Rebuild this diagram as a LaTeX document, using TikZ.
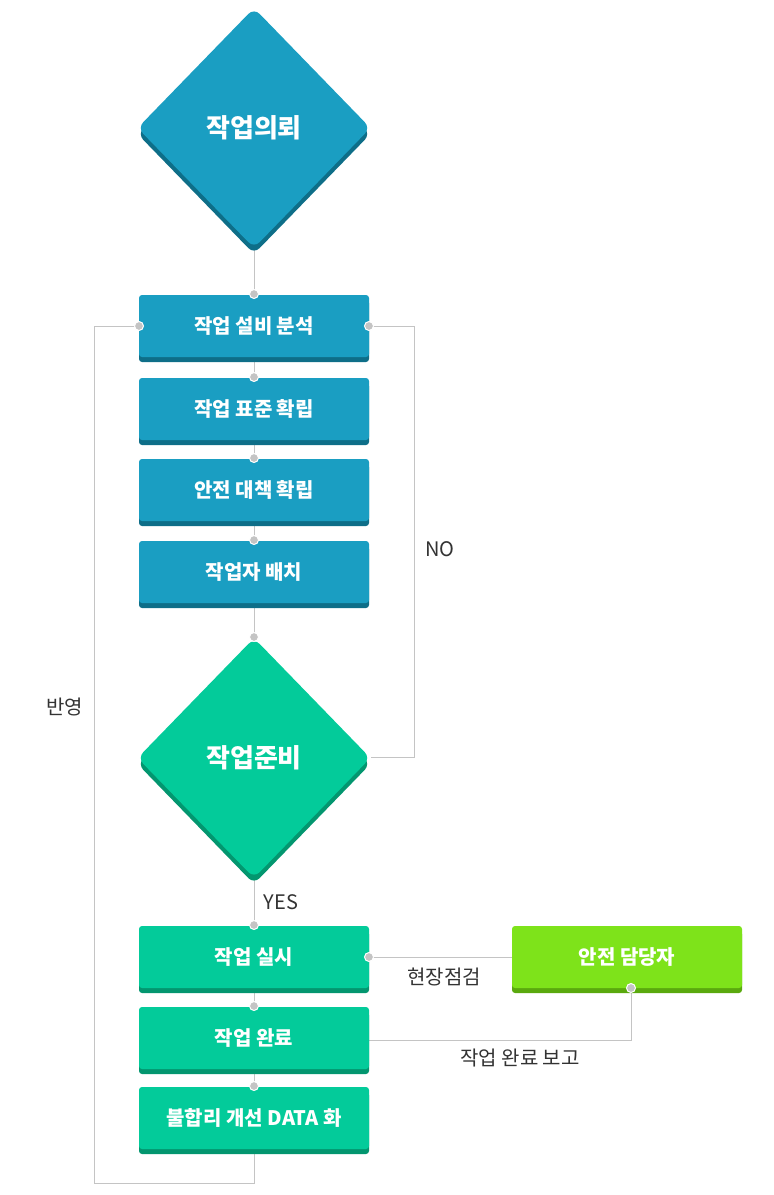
\documentclass[tikz,border=0pt]{standalone}
\usepackage{fontspec}
\setmainfont{Noto Sans CJK KR}
\usetikzlibrary{shapes.geometric}
\definecolor{cblue}{HTML}{1A9EC2}
\definecolor{cbluesh}{HTML}{0E6E88}
\definecolor{cgreen}{HTML}{03CB9A}
\definecolor{cgreensh}{HTML}{03966F}
\definecolor{clime}{HTML}{7EE31A}
\definecolor{climesh}{HTML}{5AA90E}
\definecolor{cline}{HTML}{C4C4C4}
\definecolor{ctext}{HTML}{333333}
\tikzset{
 x=1pt,y=-1pt,
 box/.style={rectangle,rounded corners=3pt,minimum width=230pt,minimum height=62pt,inner sep=0,text=white,font=\bfseries\fontsize{20}{24}\selectfont},
 dia/.style={diamond,rounded corners=8pt,aspect=0.97,minimum width=233pt,minimum height=240pt,inner sep=0,text=white,font=\bfseries\fontsize{26}{30}\selectfont},
 sh/.style={draw=none,text opacity=0},
 conn/.style={draw=cline,line width=1pt},
 dot/.style={circle,fill=cline,draw=white,line width=1pt,minimum size=9pt,inner sep=0},
 lab/.style={text=ctext,font=\fontsize{20}{24}\selectfont}
}
\begin{document}
\begin{tikzpicture}
\useasboundingbox (0,0) rectangle (774,1195);
% connectors first
\coordinate (d1b) at (254,248);
\coordinate (d2r) at (371,757);
\coordinate (nr) at (414,757);
\coordinate (nt) at (414,326);
\coordinate (lb) at (254,1183);
\coordinate (lbl) at (94,1183);
\coordinate (lt) at (94,326);
\draw[conn] (254,128) -- (254,294);
\draw[conn] (254,300) -- (254,1183) -- (lbl) -- (lt) -- (139,326);
\draw[conn] (d2r) -- (nr) -- (nt) -- (369,326);
\draw[conn] (512,957) -- (369,957);
\draw[conn] (631,988) -- (631,1040) -- (369,1040);
% shadows
\foreach \y in {326,409,490,572}{\node[box,fill=cbluesh,sh] at (254,\y+5) {};}
\foreach \y in {957,1038,1118}{\node[box,fill=cgreensh,sh] at (254,\y+5) {};}
\node[box,fill=climesh,sh] at (627,962) {};
\node[dia,fill=cbluesh,sh] at (254,134) {};
\node[dia,fill=cgreensh,sh] at (254,764) {};
% shapes
\node[dia,fill=cblue] (d1) at (254,128) {작업의뢰};
\node[box,fill=cblue] (b1) at (254,326) {작업 설비 분석};
\node[box,fill=cblue] (b2) at (254,409) {작업 표준 확립};
\node[box,fill=cblue] (b3) at (254,490) {안전 대책 확립};
\node[box,fill=cblue] (b4) at (254,572) {작업자 배치};
\node[dia,fill=cgreen] (d2) at (254,758) {작업준비};
\node[box,fill=cgreen] (g1) at (254,957) {작업 실시};
\node[box,fill=cgreen] (g2) at (254,1038) {작업 완료};
\node[box,fill=cgreen] (g3) at (254,1118) {불합리 개선 DATA 화};
\node[box,fill=clime] (s) at (627,957) {안전 담당자};
% dots
\foreach \p in {(254,294),(254,377),(254,458),(254,540),(254,637),(254,925),(254,1006),(254,1086),(139,326),(369,326),(369,957),(631,988)}{\node[dot] at \p {};}
% labels
\node[lab] at (440,549) {NO};
\node[lab] at (281,902) {YES};
\node[lab] at (65,707) {반영};
\node[lab] at (444,977) {현장점검};
\node[lab] at (520,1058) {작업 완료 보고};
\end{tikzpicture}
\end{document}
